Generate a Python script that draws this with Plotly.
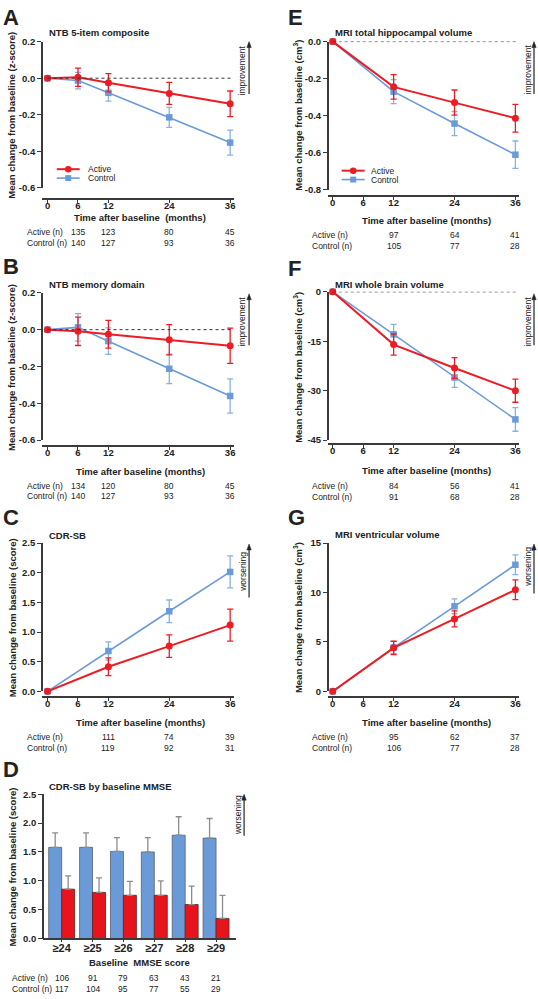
import plotly.graph_objects as go

W, H = 538, 999
FONT = "Liberation Sans, Arial, sans-serif"
RED = "#EC1C24"
BLUE = "#6A9BD8"
BLUE_ERR = "#86B1E3"
AX = "#3a3a3a"

# ---------------- data ----------------
months_AB = [0, 6, 12, 24, 36]
A_active = [0, 0.005, -0.025, -0.083, -0.14]
A_active_err = [0, 0.05, 0.05, 0.06, 0.07]
A_control = [0, -0.013, -0.08, -0.214, -0.352]
A_control_err = [0, 0.045, 0.045, 0.055, 0.068]

B_active = [0, -0.009, -0.025, -0.055, -0.0875]
B_active_err = [0, 0.077, 0.075, 0.082, 0.096]
B_control = [0, 0.0125, -0.0625, -0.2125, -0.36]
B_control_err = [0, 0.075, 0.072, 0.08, 0.093]

months_C = [0, 12, 24, 36]
C_active = [0, 0.415, 0.763, 1.117]
C_active_err = [0, 0.15, 0.19, 0.27]
C_control = [0, 0.68, 1.35, 2.013]
C_control_err = [0, 0.155, 0.19, 0.27]

mmse_cats = ["≥24", "≥25", "≥26", "≥27", "≥28", "≥29"]
D_control = [1.58, 1.58, 1.51, 1.50, 1.79, 1.74]
D_control_err = [0.25, 0.25, 0.24, 0.25, 0.32, 0.34]
D_active = [0.856, 0.80, 0.75, 0.75, 0.59, 0.35]
D_active_err = [0.23, 0.25, 0.24, 0.25, 0.32, 0.40]

E_active = [0, -0.244, -0.329, -0.413]
E_active_err = [0, 0.066, 0.068, 0.075]
E_control = [0, -0.27, -0.442, -0.61]
E_control_err = [0, 0.065, 0.065, 0.074]

F_active = [0, -16, -23.1, -30]
F_active_err = [0, 3.2, 3.15, 3.5]
F_control = [0, -12.9, -26, -38.7]
F_control_err = [0, 3.0, 3.0, 3.6]

G_active = [0, 4.4, 7.33, 10.27]
G_active_err = [0, 0.67, 0.8, 1.0]
G_control = [0, 4.43, 8.6, 12.8]
G_control_err = [0, 0.63, 0.75, 1.0]

# n tables
nA_months = [6, 12, 24, 36]
nA_active = [135, 123, 80, 45]
nA_control = [140, 127, 93, 36]
nB_active = [134, 120, 80, 45]
nB_control = [140, 127, 93, 36]
nC_months = [12, 24, 36]
nC_active = [111, 74, 39]
nC_control = [119, 92, 31]
nD_active = [106, 91, 79, 63, 43, 21]
nD_control = [117, 104, 95, 77, 55, 29]
nE_active = [97, 64, 41]
nE_control = [105, 77, 28]
nF_active = [84, 56, 41]
nF_control = [91, 68, 28]
nG_active = [95, 62, 37]
nG_control = [106, 77, 28]

month_ticks = [0, 6, 12, 24, 36]
month_ticktext = ["0", "6", "12", "24", "36"]
yt_AB = [-0.6, -0.4, -0.2, 0.0, 0.2]
yt_AB_text = ["-0.6", "-0.4", "-0.2", "0.0", "0.2"]
yt_CD = [0, 0.5, 1.0, 1.5, 2.0, 2.5]
yt_CD_text = ["0.0", "0.5", "1.0", "1.5", "2.0", "2.5"]
yt_E = [-0.8, -0.6, -0.4, -0.2, 0.0]
yt_E_text = ["-0.8", "-0.6", "-0.4", "-0.2", "0.0"]
yt_F = [-45, -30, -15, 0]
yt_F_text = ["-45", "-30", "-15", "0"]
yt_G = [0, 5, 10, 15]
yt_G_text = ["0", "5", "10", "15"]


def px(x):
    return x / W


def py(y):
    return 1 - y / H


fig = go.Figure()
layout = dict(
    width=W, height=H, autosize=False,
    margin=dict(l=0, r=0, t=0, b=0),
    paper_bgcolor="white", plot_bgcolor="white",
    showlegend=False, font=dict(family=FONT, color="#222"),
)
annotations = []
shapes = []

TICKFONT = dict(family=FONT, size=9.5, color="#222", weight="bold")


def add_axes(i, xl, xr, ytop, ybot, xline_y, xrange, yrange, xtv, xtt, ytv, ytt, xcat=False):
    xa = dict(domain=[px(xl), px(xr)], anchor="free", position=py(xline_y),
              range=xrange, showline=True, linecolor=AX, linewidth=1.5,
              ticks="outside", ticklen=3, tickwidth=1.3, tickcolor=AX,
              showgrid=False, zeroline=False, tickfont=TICKFONT,
              ticklabelstandoff=-5)
    if xcat:
        xa.update(type="category", ticklabelstandoff=-4,
                  tickfont=dict(family=FONT, size=11, color="#222", weight="bold"))
    else:
        xa.update(tickvals=xtv, ticktext=xtt)
    ya = dict(domain=[py(ybot), py(ytop)], anchor="free", position=px(xl),
              range=yrange, showline=True, linecolor=AX, linewidth=1.5,
              ticks="outside", ticklen=4, tickwidth=1.3, tickcolor=AX,
              showgrid=False, zeroline=False, tickvals=ytv, ticktext=ytt,
              tickfont=TICKFONT)
    layout["xaxis" + ("" if i == 1 else str(i))] = xa
    layout["yaxis" + ("" if i == 1 else str(i))] = ya


def add_lines(i, xs, act, act_err, ctl, ctl_err):
    xr = "x" if i == 1 else "x%d" % i
    yr = "y" if i == 1 else "y%d" % i
    fig.add_trace(go.Scatter(
        x=xs, y=ctl, xaxis=xr, yaxis=yr, mode="lines+markers", cliponaxis=False,
        line=dict(color=BLUE, width=1.6),
        marker=dict(symbol="square", size=6.5, color=BLUE),
        error_y=dict(type="data", array=ctl_err, color=BLUE_ERR, thickness=1.3, width=3),
        name="Control"))
    fig.add_trace(go.Scatter(
        x=xs, y=act, xaxis=xr, yaxis=yr, mode="lines+markers", cliponaxis=False,
        line=dict(color=RED, width=2),
        marker=dict(symbol="circle", size=7, color=RED),
        error_y=dict(type="data", array=act_err, color=RED, thickness=1.3, width=3),
        name="Active"))


def text(x, y, s, size=9.5, bold=False, xanchor="center", yanchor="middle", angle=0,
         xref="paper", xdata=False):
    annotations.append(dict(
        x=x if xdata else px(x), y=py(y), xref=xref, yref="paper", text=s,
        showarrow=False, xanchor=xanchor, yanchor=yanchor, textangle=angle,
        font=dict(family=FONT, size=size, color="#222", weight="bold" if bold else "normal")))


def arrow(x, ytop, ybot):
    shapes.append(dict(type="line", xref="paper", yref="paper", x0=px(x), x1=px(x),
                       y0=py(ybot), y1=py(ytop + 3), line=dict(color="#222", width=1.2)))
    path = "M %f %f L %f %f L %f %f Z" % (px(x), py(ytop), px(x - 2.2), py(ytop + 6),
                                          px(x + 2.2), py(ytop + 6))
    shapes.append(dict(type="path", xref="paper", yref="paper", path=path,
                       fillcolor="#222", line=dict(color="#222", width=0.5)))


def zero_line(i, x1):
    shapes.append(dict(type="line", xref="x" if i == 1 else "x%d" % i,
                       yref="y" if i == 1 else "y%d" % i, x0=0, x1=x1, y0=0, y1=0,
                       line=dict(color="#333", width=1, dash="dot")))


def ntable(i, xs, act, ctl, y1, y2, labx):
    xr = "x" if i == 1 else "x%d" % i
    text(labx, y1, "Active (n)", size=8.5, xanchor="left")
    text(labx, y2, "Control (n)", size=8.5, xanchor="left")
    for xv, a, c in zip(xs, act, ctl):
        text(xv, y1, str(a), size=8.5, xref=xr, xdata=True)
        text(xv, y2, str(c), size=8.5, xref=xr, xdata=True)


def legend(x0, x1, y1, y2, tx):
    xm = (x0 + x1) / 2
    shapes.append(dict(type="line", xref="paper", yref="paper", x0=px(x0), x1=px(x1),
                       y0=py(y1), y1=py(y1), line=dict(color=RED, width=2)))
    shapes.append(dict(type="circle", xref="paper", yref="paper", x0=px(xm - 3.3), x1=px(xm + 3.3),
                       y0=py(y1 + 3.3), y1=py(y1 - 3.3), fillcolor=RED, line=dict(width=0)))
    shapes.append(dict(type="line", xref="paper", yref="paper", x0=px(x0), x1=px(x1),
                       y0=py(y2), y1=py(y2), line=dict(color=BLUE, width=1.6)))
    shapes.append(dict(type="rect", xref="paper", yref="paper", x0=px(xm - 3), x1=px(xm + 3),
                       y0=py(y2 + 3), y1=py(y2 - 3), fillcolor=BLUE, line=dict(width=0)))
    text(tx, y1, "Active", size=8.5, xanchor="left")
    text(tx, y2, "Control", size=8.5, xanchor="left")


# left-column x range
kL = (231 - 47.7) / 36
xrL = [-(47.7 - 42) / kL, 36 + (235 - 231) / kL]
kR = (517.3 - 334) / 36
xrR = [-(334 - 329) / kR, 36 + (521 - 517.3) / kR]

YT = "Mean change from baseline (%s)"

# ---- A ----
add_axes(1, 42, 235, 36, 184, 195, xrL, [-0.6, 0.2], month_ticks, month_ticktext, yt_AB, yt_AB_text)
add_lines(1, months_AB, A_active, A_active_err, A_control, A_control_err)
zero_line(1, 36.4)
text(1, 12, "A", size=22, bold=True, xanchor="left")
text(47, 27, "NTB 5-item composite", bold=True, xanchor="left")
text(12, 110, YT % "z-score", bold=True, angle=-90)
text(141, 214, "Time after baseline  (months)", bold=True)
ntable(1, nA_months, nA_active, nA_control, 229, 240, 25)
legend(57, 80, 165, 174, 86)
text(243, 65, "improvement", size=8.5, angle=-90)
arrow(250, 36, 89)

# ---- B ----
add_axes(2, 42, 235, 290, 439, 445, xrL, [-0.6, 0.2], month_ticks, month_ticktext, yt_AB, yt_AB_text)
add_lines(2, months_AB, B_active, B_active_err, B_control, B_control_err)
zero_line(2, 36.4)
text(1, 263, "B", size=22, bold=True, xanchor="left")
text(47, 282, "NTB memory domain", bold=True, xanchor="left")
text(12, 365, YT % "z-score", bold=True, angle=-90)
text(141, 471, "Time after baseline (months)", bold=True)
ntable(2, nA_months, nB_active, nB_control, 485, 495, 25)
text(243, 319, "improvement", size=8.5, angle=-90)
arrow(250, 291, 343)

# ---- C ----
add_axes(3, 42, 235, 543, 693, 699, xrL, [0, 2.5], month_ticks, month_ticktext, yt_CD, yt_CD_text)
add_lines(3, months_C, C_active, C_active_err, C_control, C_control_err)
text(1, 517, "C", size=22, bold=True, xanchor="left")
text(47, 535, "CDR-SB", bold=True, xanchor="left")
text(12, 618, YT % "score", bold=True, angle=-90)
text(141, 724, "Time after baseline (months)", bold=True)
ntable(3, nC_months, nC_active, nC_control, 739, 750, 25)
text(244, 572, "worsening", size=8.5, angle=-90)
arrow(250, 544, 598)

# ---- D ----
add_axes(4, 43, 237, 797, 943, 943, [-0.61, 5.65], [0, 2.5], None, None, yt_CD, yt_CD_text, xcat=True)
fig.add_trace(go.Bar(
    x=mmse_cats, y=D_control, xaxis="x4", yaxis="y4", name="Control",
    marker=dict(color=BLUE, line=dict(color="#56606e", width=0.8)),
    error_y=dict(type="data", symmetric=False, array=D_control_err, arrayminus=[0] * 6,
                 color="#8c8c8c", thickness=1.3, width=3)))
fig.add_trace(go.Bar(
    x=mmse_cats, y=D_active, xaxis="x4", yaxis="y4", name="Active",
    marker=dict(color="#E8141C", line=dict(color="#5a2020", width=0.8)),
    error_y=dict(type="data", symmetric=False, array=D_active_err, arrayminus=[0] * 6,
                 color="#8c8c8c", thickness=1.3, width=3)))
text(1, 772, "D", size=22, bold=True, xanchor="left")
text(47, 789, "CDR-SB by baseline MMSE", bold=True, xanchor="left")
text(12, 870, YT % "score", bold=True, angle=-90)
text(140, 967, "Baseline  MMSE score", bold=True)
ntable(4, mmse_cats, nD_active, nD_control, 983, 994, 10)
text(239, 818, "worsening", size=8.5, angle=-90)
arrow(245, 797, 839)

# ---- E ----
add_axes(5, 329, 521, 36, 186, 192, xrR, [-0.8, 0], month_ticks, month_ticktext, yt_E, yt_E_text)
add_lines(5, months_C, E_active, E_active_err, E_control, E_control_err)
zero_line(5, 36.6)
text(287, 12, "E", size=22, bold=True, xanchor="left")
text(334, 27, "MRI total hippocampal volume", bold=True, xanchor="left")
text(299, 110, YT % "cm<sup>3</sup>", bold=True, angle=-90)
text(428, 217, "Time after baseline (months)", bold=True)
ntable(5, nC_months, nE_active, nE_control, 232, 243, 311)
legend(343, 366, 166.5, 175.5, 370)
text(530, 64, "improvement", size=8.5, angle=-90)
arrow(536, 36, 89)

# ---- F ----
add_axes(6, 329, 521, 289, 439, 443, xrR, [-45, 0], month_ticks, month_ticktext, yt_F, yt_F_text)
add_lines(6, months_C, F_active, F_active_err, F_control, F_control_err)
zero_line(6, 36.6)
text(287, 265, "F", size=22, bold=True, xanchor="left")
text(334, 282, "MRI whole brain volume", bold=True, xanchor="left")
text(299, 365, YT % "cm<sup>3</sup>", bold=True, angle=-90)
text(428, 470, "Time after baseline (months)", bold=True)
ntable(6, nC_months, nF_active, nF_control, 485, 496, 311)
text(530, 319, "improvement", size=8.5, angle=-90)
arrow(536, 291, 343)

# ---- G ----
add_axes(7, 329, 521, 543, 693, 699, xrR, [0, 15], month_ticks, month_ticktext, yt_G, yt_G_text)
add_lines(7, months_C, G_active, G_active_err, G_control, G_control_err)
text(287, 517, "G", size=22, bold=True, xanchor="left")
text(334, 534, "MRI ventricular volume", bold=True, xanchor="left")
text(299, 618, YT % "cm<sup>3</sup>", bold=True, angle=-90)
text(428, 724, "Time after baseline (months)", bold=True)
ntable(7, nC_months, nG_active, nG_control, 739, 750, 311)
text(530, 567, "worsening", size=8.5, angle=-90)
arrow(536, 544, 594)

layout["annotations"] = annotations
layout["shapes"] = shapes
layout["barmode"] = "group"
layout["bargap"] = 0.16
layout["bargroupgap"] = 0
fig.update_layout(**layout)
fig.write_html("out.html", config={"displayModeBar": False},
               post_script="document.body.style.margin='0px';document.body.style.overflow='hidden';")
